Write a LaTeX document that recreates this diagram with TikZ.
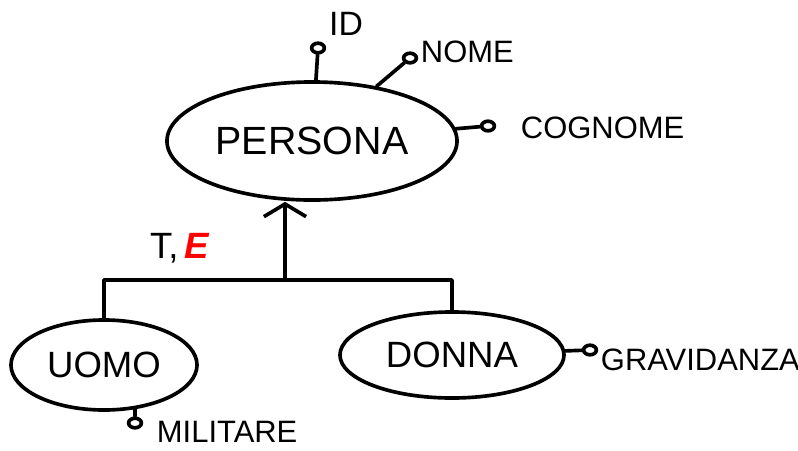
\documentclass[tikz,border=0pt]{standalone}
\usepackage{fontspec}
\setmainfont{Liberation Sans}
\usetikzlibrary{shapes.geometric,arrows.meta}

\tikzset{
  pen/.style={line width=2.6pt, line cap=round, line join=round},
  entita/.style={pen, draw, ellipse, inner sep=0pt},
  attr/.style={pen, draw, ellipse, inner sep=0pt, minimum width=0.32cm, minimum height=0.24cm},
  big/.style={font=\fontsize{28}{30}\selectfont},
  small/.style={font=\fontsize{22}{24}\selectfont},
}

\begin{document}
\begin{tikzpicture}[x=0.025cm, y=-0.025cm]
    \useasboundingbox (0,0) rectangle (798,450);

    % Entita padre
    \node[entita, big, minimum width=7.25cm, minimum height=2.95cm] (persona) at (312,141) {PERSONA};

    \node[attr] (idc) at (318,48) {};
    \node[small, font=\fontsize{24}{26}\selectfont] (idl) at (346,24) {ID};
    \draw[pen] (persona) -- (idc);

    \node[attr] (nomec) at (410,58) {};
    \node[small, anchor=west] (nomel) at (416,52) {NOME};
    \draw[pen] (persona) -- (nomec);

    \node[attr] (cognomec) at (488,126) {};
    \node[small, anchor=west] (cognomel) at (516,128) {COGNOME};
    \draw[pen] (persona) -- (cognomec);

    % Entita figlie
    \node[entita, font=\fontsize{26}{28}\selectfont, minimum width=4.65cm, minimum height=2.25cm] (uomo) at (104,365) {UOMO};
    \node[entita, font=\fontsize{26}{28}\selectfont, minimum width=5.6cm, minimum height=2.15cm] (donna) at (452,355) {DONNA};

    \node[attr] (militarec) at (135,423) {};
    \node[small, anchor=west] (militarel) at (152,432) {MILITARE};
    \draw[pen] (uomo.-55) -- (militarec);

    \node[attr] (gravidanzac) at (590,350) {};
    \node[small, anchor=west] (gravidanzal) at (596,360) {GRAVIDANZA};
    \draw[pen] (donna) -- (gravidanzac);

    % Generalizzazione
    \coordinate (gen) at (285,280);
    \draw[pen] (uomo.north) |- (gen) -| (donna.north);
    \draw[pen, -{Straight Barb[length=9pt, width=30pt]}] (gen) -- (gen |- persona.south);
    \node[font=\fontsize{26}{28}\selectfont] (tipo) at (180,248) {T,\,\textcolor{red}{\textbf{\textit{E}}}};
\end{tikzpicture}
\end{document}
